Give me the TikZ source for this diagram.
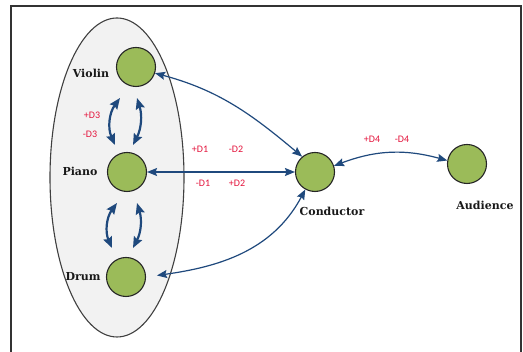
\documentclass[tikz,border=0pt]{standalone}
\usepackage{fontspec}
\newfontfamily\lblfont{DejaVu Serif}
\newfontfamily\redfont{Carlito}
\usetikzlibrary{arrows.meta,calc}
\definecolor{arrowblue}{RGB}{31,73,125}
\definecolor{nodegreen}{RGB}{155,187,89}
\definecolor{labelred}{RGB}{228,20,60}
\definecolor{ellfill}{RGB}{242,242,242}
\tikzset{
  member/.style={circle,draw=black!85,line width=1.1pt,fill=nodegreen,minimum size=39pt,inner sep=0pt},
  namelbl/.style={font=\lblfont\bfseries\fontsize{11}{12}\selectfont,inner sep=0pt,text=black!90},
  redlbl/.style={font=\redfont\fontsize{10}{11}\selectfont,text=labelred,inner sep=0pt},
  link/.style={draw=arrowblue,line width=1.2pt,{Stealth[length=10pt,width=8pt,inset=1.5pt]}-{Stealth[length=10pt,width=8pt,inset=1.5pt]}},
  thicklink/.style={draw=arrowblue,line width=2.2pt,{Stealth[length=11pt,width=9pt,inset=1.5pt]}-{Stealth[length=11pt,width=9pt,inset=1.5pt]}}
}
\begin{document}
\begin{tikzpicture}[x=1pt,y=1pt]
\useasboundingbox[fill=white] (0,0) rectangle (523,352);
% frame
\draw[black!80,line width=1.8pt] (11,-5) -- (11,346) -- (521,346) -- (521,-5);
% ensemble ellipse
\draw[fill=ellfill,draw=black!75,line width=1.1pt] (117,174.5) ellipse [x radius=67, y radius=159.5];
% nodes
\node[member] (violin) at (136,285) {};
\node[member] (piano) at (127,180) {};
\node[member] (drum) at (126,75) {};
\node[member] (conductor) at (315,180) {};
\node[member] (audience) at (467,188) {};
% names
\node[namelbl] (tviolin) at (91,279) {Violin};
\node[namelbl] (tpiano) at (80,181) {Piano};
\node[namelbl] (tdrum) at (83,75) {Drum};
\node[namelbl] (tconductor) at (332,141) {Conductor};
\node[namelbl] (taudience) at (485,147) {Audience};
% red labels
\node[redlbl] (pd3) at (92,237) {+D3};
\node[redlbl] (md3) at (90,218) {-D3};
\node[redlbl] (pd1) at (200,203) {+D1};
\node[redlbl] (md2) at (236,203) {-D2};
\node[redlbl] (md1) at (203,169) {-D1};
\node[redlbl] (pd2) at (237,169) {+D2};
\node[redlbl] (pd4) at (372,213) {+D4};
\node[redlbl] (md4) at (402,213) {-D4};
% connectors
\draw[link] (violin.-18) to[out=-15,in=140] (conductor.130);
\draw[link] (piano.east) -- (conductor.west);
\draw[link,shorten <=11pt] (drum.east) to[out=8,in=242] (conductor.241);
\draw[link] (conductor.18) to[bend left=18] (audience.170);
% inner double arrows
\draw[thicklink] ($(violin)+(-16,-31)$) to[bend right=30] ($(piano)+(-12,27)$);
\draw[thicklink] ($(violin)+(1,-31)$) to[bend left=22] ($(piano)+(6,27)$);
\draw[thicklink] ($(piano)+(-10,-31)$) to[bend right=30] ($(drum)+(-14,29)$);
\draw[thicklink] ($(piano)+(10,-31)$) to[bend left=22] ($(drum)+(7,29)$);
\end{tikzpicture}
\end{document}
